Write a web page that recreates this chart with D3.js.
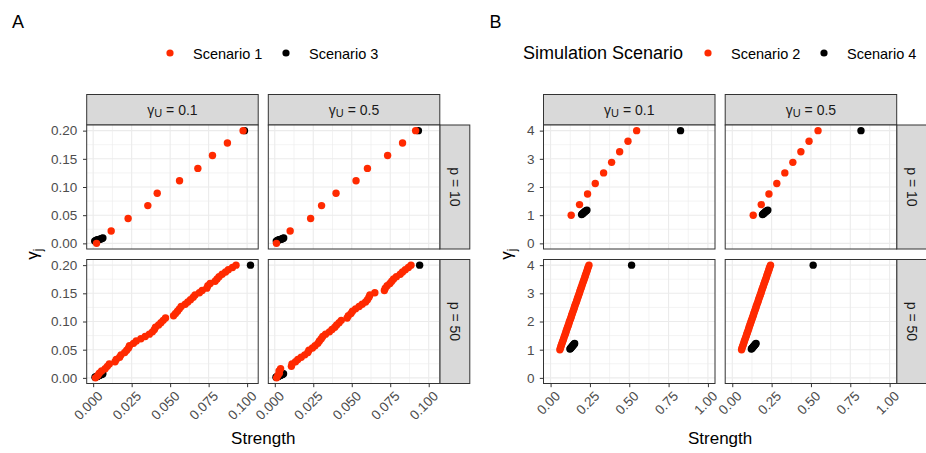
<!DOCTYPE html>
<html>
<head>
<meta charset="utf-8">
<script src="https://cdn.jsdelivr.net/npm/d3@7"></script>
<style>
  body { margin: 0; background: #fff; }
  svg text { font-family: "Liberation Sans", Arial, Helvetica, sans-serif; }
</style>
</head>
<body>
<svg id="fig" width="926" height="453"></svg>
<script>
// ---------- facet labels ----------
const gammaULabels = ["0.1", "0.5"];
const pLabels = ["p = 10", "p = 50"];

// ---------- axis ticks ----------
const xTicksA = [0, 0.025, 0.05, 0.075, 0.1];
const yTicksA = [0, 0.05, 0.1, 0.15, 0.2];
const xTicksB = [0, 0.25, 0.5, 0.75, 1];
const yTicksB = [0, 1, 2, 3, 4];

// ---------- Figure A: Scenario 1 (red) and Scenario 3 (black) ----------
// p = 10
const gammaS1_p10 = [0.000, 0.022, 0.044, 0.067, 0.089, 0.111, 0.133, 0.156, 0.178, 0.200];
const strS1_u01_p10 = [0.0022, 0.0117, 0.0227, 0.0355, 0.0416, 0.0561, 0.0680, 0.0775, 0.0872, 0.0974];
const strS1_u05_p10 = [0.0011, 0.0100, 0.0233, 0.0304, 0.0398, 0.0528, 0.0602, 0.0733, 0.0830, 0.0915];
const gammaS3_p10 = [0.0040, 0.0050, 0.0060, 0.0065, 0.0070, 0.0075, 0.0080, 0.0085, 0.0095, 0.2000];
const strS3_u01_p10 = [0.0010, 0.0017, 0.0024, 0.0031, 0.0038, 0.0045, 0.0051, 0.0057, 0.0063, 0.0983];
const strS3_u05_p10 = [0.0010, 0.0017, 0.0024, 0.0030, 0.0036, 0.0042, 0.0048, 0.0053, 0.0058, 0.0933];
// p = 50
const gammaS1_p50 = [0.0000, 0.0041, 0.0082, 0.0122, 0.0163, 0.0204, 0.0245, 0.0286, 0.0327, 0.0367,
  0.0408, 0.0449, 0.0490, 0.0531, 0.0571, 0.0612, 0.0653, 0.0694, 0.0735, 0.0776,
  0.0816, 0.0857, 0.0898, 0.0939, 0.0980, 0.1020, 0.1061, 0.1102, 0.1143, 0.1184,
  0.1224, 0.1265, 0.1306, 0.1347, 0.1388, 0.1429, 0.1469, 0.1510, 0.1551, 0.1592,
  0.1633, 0.1673, 0.1714, 0.1755, 0.1796, 0.1837, 0.1878, 0.1918, 0.1959, 0.2000];
const strS1_u01_p50 = [0.0015, 0.0030, 0.0040, 0.0055, 0.0078, 0.0092, 0.0105, 0.0142, 0.0150, 0.0172,
  0.0181, 0.0205, 0.0218, 0.0230, 0.0236, 0.0262, 0.0280, 0.0310, 0.0338, 0.0365,
  0.0385, 0.0398, 0.0405, 0.0425, 0.0440, 0.0455, 0.0470, 0.0522, 0.0535, 0.0548,
  0.0560, 0.0572, 0.0598, 0.0615, 0.0632, 0.0650, 0.0662, 0.0690, 0.0708, 0.0738,
  0.0745, 0.0760, 0.0792, 0.0805, 0.0818, 0.0838, 0.0860, 0.0878, 0.0905, 0.0928];
const strS1_u05_p50 = [0.0012, 0.0020, 0.0030, 0.0028, 0.0038, 0.0108, 0.0112, 0.0135, 0.0150, 0.0172,
  0.0195, 0.0215, 0.0222, 0.0245, 0.0262, 0.0280, 0.0290, 0.0302, 0.0312, 0.0330,
  0.0355, 0.0372, 0.0390, 0.0402, 0.0418, 0.0432, 0.0470, 0.0478, 0.0495, 0.0505,
  0.0525, 0.0548, 0.0568, 0.0590, 0.0602, 0.0612, 0.0618, 0.0650, 0.0712, 0.0718,
  0.0730, 0.0748, 0.0760, 0.0772, 0.0790, 0.0815, 0.0830, 0.0848, 0.0868, 0.0885];
const gammaS3_p50 = [0.0010, 0.0015, 0.0020, 0.0025, 0.0030, 0.0035, 0.0040, 0.0045, 0.0050, 0.0055,
  0.0060, 0.0065, 0.0070, 0.0075, 0.2000];
const strS3_u01_p50 = [0.0012, 0.0016, 0.0020, 0.0024, 0.0028, 0.0032, 0.0036, 0.0040, 0.0044, 0.0048,
  0.0052, 0.0056, 0.0060, 0.0063, 0.1022];
const strS3_u05_p50 = [0.0008, 0.0012, 0.0016, 0.0020, 0.0024, 0.0028, 0.0032, 0.0036, 0.0040, 0.0044,
  0.0047, 0.0050, 0.0053, 0.0057, 0.0941];

// ---------- Figure B: Scenario 2 (red) and Scenario 4 (black) ----------
// p = 10
const gammaS2_p10 = [1.000, 1.375, 1.750, 2.125, 2.500, 2.875, 3.250, 3.625, 4.000];
const strS2_u01_p10 = [0.131, 0.184, 0.235, 0.284, 0.337, 0.388, 0.439, 0.492, 0.547];
const strS2_u05_p10 = [0.133, 0.184, 0.233, 0.283, 0.334, 0.385, 0.436, 0.488, 0.545];
const gammaS4_p10 = [1.02, 1.04, 1.06, 1.08, 1.10, 1.12, 1.14, 1.16, 1.18, 4.00];
const strS4_u01_p10 = [0.197, 0.201, 0.205, 0.209, 0.213, 0.217, 0.221, 0.226, 0.231, 0.826];
const strS4_u05_p10 = [0.192, 0.196, 0.200, 0.204, 0.208, 0.212, 0.216, 0.221, 0.226, 0.818];
// p = 50
const gammaS2_p50 = [1.000, 1.061, 1.122, 1.184, 1.245, 1.306, 1.367, 1.429, 1.490, 1.551,
  1.612, 1.673, 1.735, 1.796, 1.857, 1.918, 1.980, 2.041, 2.102, 2.163,
  2.224, 2.286, 2.347, 2.408, 2.469, 2.531, 2.592, 2.653, 2.714, 2.776,
  2.837, 2.898, 2.959, 3.020, 3.082, 3.143, 3.204, 3.265, 3.327, 3.388,
  3.449, 3.510, 3.571, 3.633, 3.694, 3.755, 3.816, 3.878, 3.939, 4.000];
const strS2_u01_p50 = [0.059, 0.063, 0.066, 0.070, 0.074, 0.078, 0.082, 0.085, 0.089, 0.093,
  0.097, 0.100, 0.104, 0.108, 0.112, 0.116, 0.119, 0.123, 0.127, 0.131,
  0.134, 0.138, 0.142, 0.146, 0.150, 0.153, 0.157, 0.161, 0.165, 0.168,
  0.172, 0.176, 0.180, 0.184, 0.187, 0.191, 0.195, 0.199, 0.202, 0.206,
  0.210, 0.214, 0.218, 0.221, 0.225, 0.229, 0.233, 0.236, 0.240, 0.244];
const strS2_u05_p50 = [0.059, 0.062, 0.066, 0.070, 0.074, 0.077, 0.081, 0.085, 0.089, 0.092,
  0.096, 0.100, 0.104, 0.107, 0.111, 0.115, 0.119, 0.122, 0.126, 0.130,
  0.134, 0.137, 0.141, 0.145, 0.149, 0.152, 0.156, 0.160, 0.164, 0.167,
  0.171, 0.175, 0.179, 0.183, 0.186, 0.190, 0.194, 0.198, 0.201, 0.205,
  0.209, 0.213, 0.217, 0.220, 0.224, 0.228, 0.232, 0.235, 0.239, 0.243];
const gammaS4_p50 = [1.02, 1.04, 1.06, 1.08, 1.10, 1.12, 1.14, 1.16, 1.18, 1.20, 1.22, 4.00];
const strS4_u01_p50 = [0.123, 0.126, 0.129, 0.132, 0.135, 0.138, 0.141, 0.144, 0.147, 0.150, 0.153, 0.515];
const strS4_u05_p50 = [0.121, 0.124, 0.127, 0.130, 0.133, 0.136, 0.139, 0.142, 0.145, 0.148, 0.151, 0.514];

// ---------- styling ----------
const RED = "#FF2A00", BLACK = "#000000";
const PANEL_W = 171.5, PANEL_H = 124;
const ROWS_Y = [125, 259.5];
const STRIP_H = 30.5, STRIP_W = 30;
const PT_R = 3.7;
const TICK_FONT = 13.5;

const svg = d3.select("#fig");

function zip(xs, ys) { return xs.map((v, i) => ({ x: v, y: ys[i] })); }

function midpoints(t) {
  const out = [];
  for (let i = 0; i < t.length - 1; i++) out.push((t[i] + t[i + 1]) / 2);
  return out;
}

function drawGrid(cfg) {
  const x = d3.scaleLinear().domain(cfg.xDomain).range([0, PANEL_W]);
  const y = d3.scaleLinear().domain(cfg.yDomain).range([PANEL_H, 0]);
  const xMinor = midpoints(cfg.xTicks), yMinor = midpoints(cfg.yTicks);
  const root = svg.append("g");

  // column strips (top)
  cfg.colsX.forEach((cx, ci) => {
    const s = root.append("g").attr("transform", `translate(${cx},${ROWS_Y[0] - STRIP_H})`);
    s.append("rect").attr("width", PANEL_W).attr("height", STRIP_H)
      .attr("fill", "#D9D9D9").attr("stroke", "#333333").attr("stroke-width", 1);
    const t = s.append("text").attr("x", PANEL_W / 2).attr("y", STRIP_H / 2 + 4.8)
      .attr("text-anchor", "middle").attr("font-size", 14).attr("fill", "#1A1A1A");
    t.append("tspan").text("γ");
    t.append("tspan").attr("font-size", 11).attr("dy", 2).text("U");
    t.append("tspan").attr("dy", -2).text(" = " + gammaULabels[ci]);
  });

  // row strips (right)
  const sx = cfg.colsX[cfg.colsX.length - 1] + PANEL_W;
  ROWS_Y.forEach((ry, ri) => {
    const s = root.append("g").attr("transform", `translate(${sx},${ry})`);
    s.append("rect").attr("width", STRIP_W).attr("height", PANEL_H)
      .attr("fill", "#D9D9D9").attr("stroke", "#333333").attr("stroke-width", 1);
    s.append("text").attr("transform", `translate(${STRIP_W / 2},${PANEL_H / 2}) rotate(90)`)
      .attr("text-anchor", "middle").attr("dy", "0.35em")
      .attr("font-size", 14).attr("fill", "#1A1A1A").text(pLabels[ri]);
  });

  // panels
  ROWS_Y.forEach((ry, ri) => {
    cfg.colsX.forEach((cx, ci) => {
      const g = root.append("g").attr("transform", `translate(${cx},${ry})`);
      g.append("rect").attr("width", PANEL_W).attr("height", PANEL_H).attr("fill", "#fff");
      // minor grid
      g.selectAll(".vmin").data(xMinor).join("line")
        .attr("x1", d => x(d)).attr("x2", d => x(d)).attr("y1", 0).attr("y2", PANEL_H)
        .attr("stroke", "#EBEBEB").attr("stroke-width", 0.6);
      g.selectAll(".hmin").data(yMinor).join("line")
        .attr("y1", d => y(d)).attr("y2", d => y(d)).attr("x1", 0).attr("x2", PANEL_W)
        .attr("stroke", "#EBEBEB").attr("stroke-width", 0.6);
      // major grid
      g.selectAll(".vmaj").data(cfg.xTicks).join("line")
        .attr("x1", d => x(d)).attr("x2", d => x(d)).attr("y1", 0).attr("y2", PANEL_H)
        .attr("stroke", "#EBEBEB").attr("stroke-width", 1.1);
      g.selectAll(".hmaj").data(cfg.yTicks).join("line")
        .attr("y1", d => y(d)).attr("y2", d => y(d)).attr("x1", 0).attr("x2", PANEL_W)
        .attr("stroke", "#EBEBEB").attr("stroke-width", 1.1);
      // points: black scenario first, red scenario drawn on top
      const p = cfg.panels[ri][ci];
      g.append("g").selectAll("circle").data(p.black).join("circle")
        .attr("cx", d => x(d.x)).attr("cy", d => y(d.y)).attr("r", PT_R).attr("fill", BLACK);
      g.append("g").selectAll("circle").data(p.red).join("circle")
        .attr("cx", d => x(d.x)).attr("cy", d => y(d.y)).attr("r", PT_R).attr("fill", RED);
      // border
      g.append("rect").attr("width", PANEL_W).attr("height", PANEL_H)
        .attr("fill", "none").attr("stroke", "#333333").attr("stroke-width", 1);

      // y axis on left column
      if (ci === 0) {
        const ax = g.append("g").call(d3.axisLeft(y).tickValues(cfg.yTicks)
          .tickFormat(cfg.yFmt).tickSize(3.7).tickPadding(cfg.yPad));
        styleAxis(ax);
      }
      // x axis on bottom row
      if (ri === ROWS_Y.length - 1) {
        const ax = g.append("g").attr("transform", `translate(0,${PANEL_H})`)
          .call(d3.axisBottom(x).tickValues(cfg.xTicks).tickFormat(cfg.xFmt).tickSize(3.7));
        styleAxis(ax);
        ax.selectAll(".tick text")
          .attr("x", 0).attr("y", 0).attr("dy", "0.72em")
          .attr("text-anchor", "end")
          .attr("transform", "translate(3,6.5) rotate(-45)");
      }
    });
  });

  // axis titles
  const left = cfg.colsX[0], right = cfg.colsX[cfg.colsX.length - 1] + PANEL_W;
  svg.append("text").attr("x", (left + right) / 2).attr("y", 444)
    .attr("text-anchor", "middle").attr("font-size", 17).attr("fill", "#000").text("Strength");
  const yt = svg.append("text")
    .attr("transform", `translate(${cfg.yTitleX},${(ROWS_Y[0] + ROWS_Y[1] + PANEL_H) / 2}) rotate(-90)`)
    .attr("text-anchor", "middle").attr("font-size", 17).attr("fill", "#000");
  yt.append("tspan").text("γ");
  yt.append("tspan").attr("font-size", 12).attr("dy", 4).text("j");
}

function styleAxis(ax) {
  ax.select(".domain").remove();
  ax.selectAll(".tick line").attr("stroke", "#333333").attr("stroke-width", 1);
  ax.selectAll(".tick text").attr("fill", "#4D4D4D").attr("font-size", TICK_FONT)
    .attr("font-family", "Liberation Sans, Arial, sans-serif");
}

// ---------- Figure A ----------
drawGrid({
  colsX: [86.7, 268.3],
  xDomain: [-0.0042, 0.1072], yDomain: [-0.01, 0.21],
  xTicks: xTicksA, yTicks: yTicksA,
  xFmt: d3.format(".3f"), yFmt: d3.format(".2f"),
  yPad: 5.8, yTitleX: 38,
  panels: [
    [{ red: zip(strS1_u01_p10, gammaS1_p10), black: zip(strS3_u01_p10, gammaS3_p10) },
     { red: zip(strS1_u05_p10, gammaS1_p10), black: zip(strS3_u05_p10, gammaS3_p10) }],
    [{ red: zip(strS1_u01_p50, gammaS1_p50), black: zip(strS3_u01_p50, gammaS3_p50) },
     { red: zip(strS1_u05_p50, gammaS1_p50), black: zip(strS3_u05_p50, gammaS3_p50) }]
  ]
});

// ---------- Figure B ----------
drawGrid({
  colsX: [543.5, 725.2],
  xDomain: [-0.045, 1.045], yDomain: [-0.2, 4.2],
  xTicks: xTicksB, yTicks: yTicksB,
  xFmt: d3.format(".2f"), yFmt: d3.format("d"),
  yPad: 5.3, yTitleX: 512,
  panels: [
    [{ red: zip(strS2_u01_p10, gammaS2_p10), black: zip(strS4_u01_p10, gammaS4_p10) },
     { red: zip(strS2_u05_p10, gammaS2_p10), black: zip(strS4_u05_p10, gammaS4_p10) }],
    [{ red: zip(strS2_u01_p50, gammaS2_p50), black: zip(strS4_u01_p50, gammaS4_p50) },
     { red: zip(strS2_u05_p50, gammaS2_p50), black: zip(strS4_u05_p50, gammaS4_p50) }]
  ]
});

// ---------- panel tags ----------
svg.append("text").attr("x", 12).attr("y", 28).attr("font-size", 18).attr("fill", "#000").text("A");
svg.append("text").attr("x", 489.5).attr("y", 28).attr("font-size", 18).attr("fill", "#000").text("B");

// ---------- legends ----------
function legendItem(cx, label, color) {
  svg.append("circle").attr("cx", cx).attr("cy", 53).attr("r", 3.6).attr("fill", color);
  svg.append("text").attr("x", cx + 23).attr("y", 58.5).attr("font-size", 14.5)
    .attr("fill", "#000").text(label);
}
legendItem(170, "Scenario 1", RED);
legendItem(286, "Scenario 3", BLACK);
svg.append("text").attr("x", 523).attr("y", 59).attr("font-size", 18).attr("fill", "#000")
  .text("Simulation Scenario");
legendItem(708, "Scenario 2", RED);
legendItem(824, "Scenario 4", BLACK);
</script>
</body>
</html>
